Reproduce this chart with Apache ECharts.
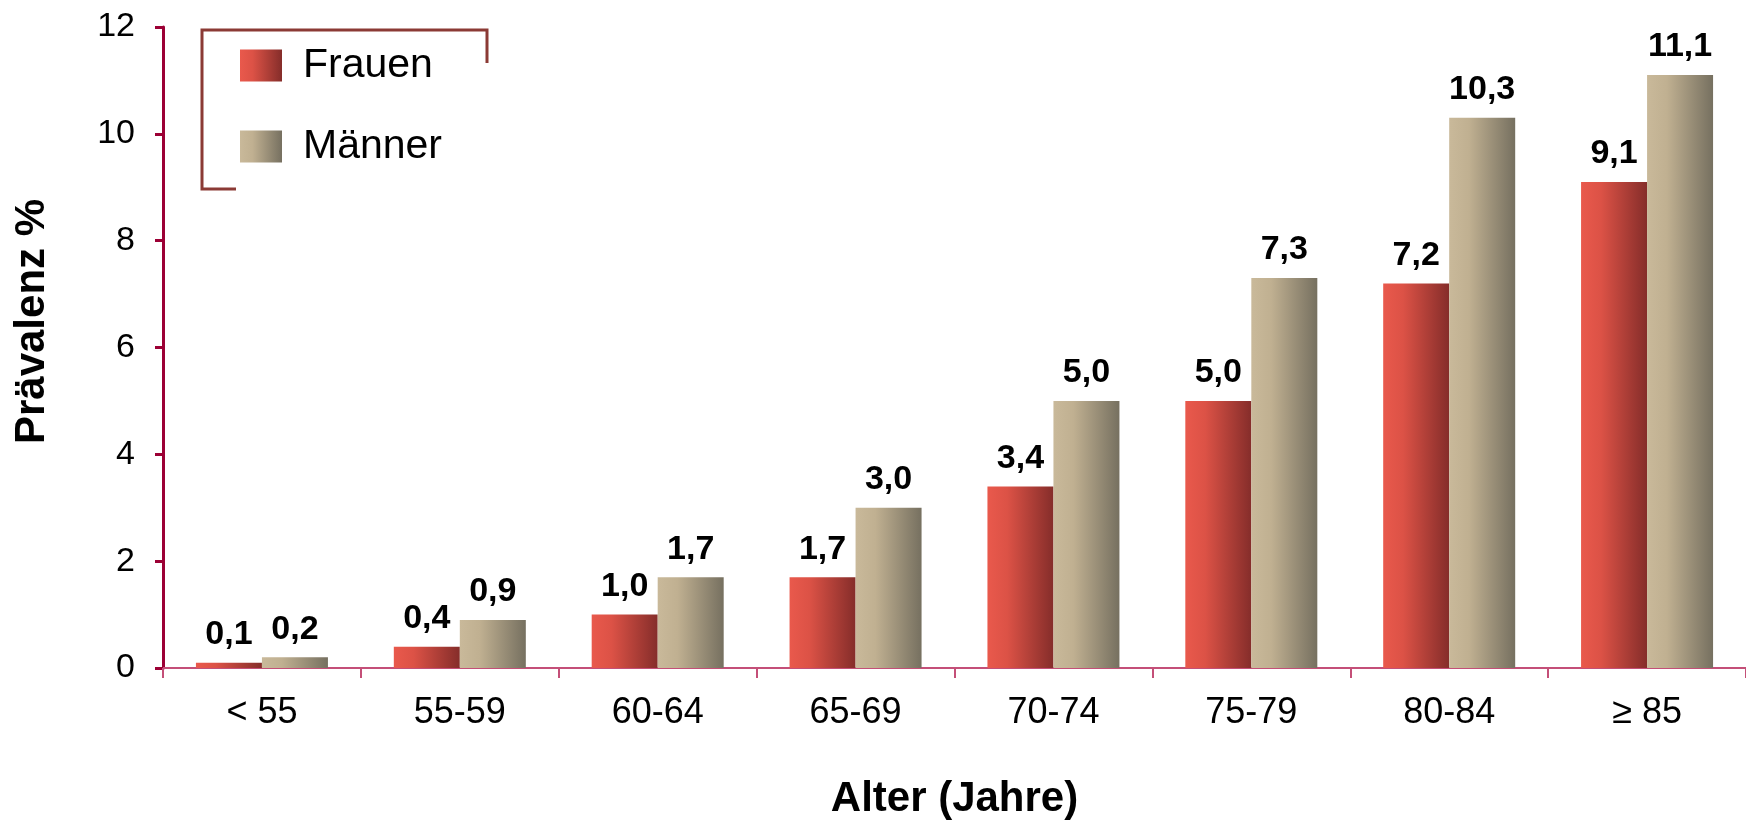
<!DOCTYPE html>
<html>
<head>
<meta charset="utf-8">
<script src="https://cdn.jsdelivr.net/npm/echarts@6/dist/echarts.min.js"></script>
<style>
  html, body { margin: 0; padding: 0; background: #fff; }
  #chart { width: 1746px; height: 827px; }
</style>
</head>
<body>
<div id="chart"></div>
<script>
const categories = ['< 55', '55-59', '60-64', '65-69', '70-74', '75-79', '80-84', '≥ 85'];
const frauen = [0.1, 0.4, 1.0, 1.7, 3.4, 5.0, 7.2, 9.1];
const maenner = [0.2, 0.9, 1.7, 3.0, 5.0, 7.3, 10.3, 11.1];
const yTicks = { min: 0, max: 12, interval: 2 };

const FONT = '"Liberation Sans", Arial, sans-serif';
const chart = echarts.init(document.getElementById('chart'));

function grad(stops) {
  return new echarts.graphic.LinearGradient(0, 0, 1, 0, stops.map(c => ({ offset: c[0], color: c[1] })));
}
const redGrad = grad([[0, '#e9594c'], [0.3, '#dc5246'], [1, '#852d2a']]);
const tanGrad = grad([[0, '#c9b99a'], [0.3, '#c0b091'], [1, '#767060']]);

const labelCfg = {
  show: true,
  position: 'top',
  distance: 11,
  color: '#000',
  fontFamily: FONT,
  fontWeight: 'bold',
  fontSize: 34,
  formatter: p => p.value.toFixed(1).replace('.', ',')
};

chart.setOption({
  animation: false,
  backgroundColor: '#fff',
  grid: { left: 163, top: 27, width: 1593, height: 641, containLabel: false },
  legend: {
    orient: 'vertical',
    left: 235,
    top: 40,
    itemWidth: 42,
    itemHeight: 32,
    itemGap: 40,
    icon: 'rect',
    textStyle: { fontFamily: FONT, fontSize: 41, color: '#000', padding: [0, 0, 0, 16] },
    data: ['Frauen', 'Männer']
  },
  xAxis: {
    type: 'category',
    data: categories,
    name: 'Alter (Jahre)',
    nameLocation: 'middle',
    nameGap: 110,
    nameTextStyle: { fontFamily: FONT, fontWeight: 'bold', fontSize: 42, color: '#000' },
    axisLine: { lineStyle: { color: '#c44f78', width: 2 } },
    axisTick: { show: true, length: 10, lineStyle: { color: '#c44f78', width: 2 } },
    axisLabel: { fontFamily: FONT, fontSize: 36, color: '#000', margin: 27 },
    splitLine: { show: false }
  },
  yAxis: {
    type: 'value',
    min: yTicks.min,
    max: yTicks.max,
    interval: yTicks.interval,
    name: 'Prävalenz %',
    nameLocation: 'middle',
    nameGap: 110,
    nameRotate: 90,
    nameTextStyle: { fontFamily: FONT, fontWeight: 'bold', fontSize: 42, color: '#000', padding: [0, 0, 0, 52] },
    axisLine: { show: true, lineStyle: { color: '#9c0035', width: 3 } },
    axisTick: { show: true, length: 8, lineStyle: { color: '#9c0035', width: 3 } },
    axisLabel: { fontFamily: FONT, fontSize: 34, color: '#000', margin: 28 },
    splitLine: { show: false }
  },
  graphic: [
    { type: 'polyline', z: 10, silent: true,
      shape: { points: [[236, 189], [202, 189], [202, 30], [487, 30], [487, 63]] },
      style: { stroke: '#8b3a35', lineWidth: 3, fill: null } }
  ],
  series: [
    { name: 'Frauen', type: 'bar', data: frauen, barWidth: 66, barGap: '0%',
      itemStyle: { color: redGrad }, label: labelCfg },
    { name: 'Männer', type: 'bar', data: maenner, barWidth: 66, barGap: '0%',
      itemStyle: { color: tanGrad }, label: labelCfg }
  ]
});
</script>
</body>
</html>
